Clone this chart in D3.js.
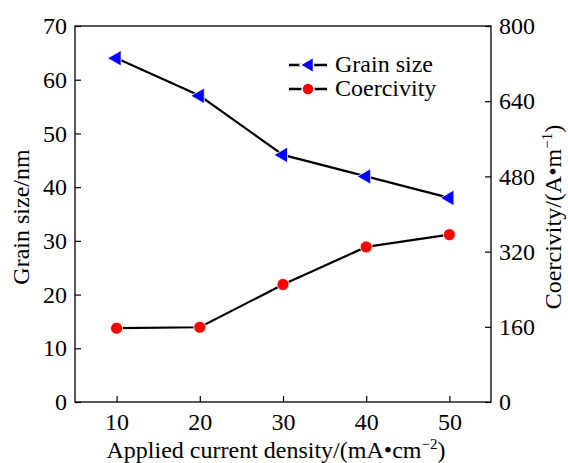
<!DOCTYPE html>
<html>
<head>
<meta charset="utf-8">
<script src="https://cdn.jsdelivr.net/npm/d3@7"></script>
<style>
  body { margin: 0; background: #fff; }
  text { font-family: "Liberation Serif", "Times New Roman", serif; fill: #000; }
</style>
</head>
<body>
<script>
// data
const currentDensity = [10, 20, 30, 40, 50];
const grainSize = [64, 57, 46, 42, 38];
const coercivity = [157, 159, 250, 330, 356];
const xTicks = [10, 20, 30, 40, 50];
const leftTicks = [0, 10, 20, 30, 40, 50, 60, 70];
const rightTicks = [0, 160, 320, 480, 640, 800];

const width = 568;
const height = 463;
const plot = { left: 75, right: 491, top: 26, bottom: 402 };
const fontSize = 24;

let svg = d3.select("body")
    .append("svg")
    .attr("width", width)
    .attr("height", height);

//scales
let xScale = d3.scaleLinear().domain([5, 55]).range([plot.left, plot.right]);
let yLeft = d3.scaleLinear().domain([0, 70]).range([plot.bottom, plot.top]);
let yRight = d3.scaleLinear().domain([0, 800]).range([plot.bottom, plot.top]);

//frame
svg.append("rect")
    .attr("x", plot.left)
    .attr("y", plot.top)
    .attr("width", plot.right - plot.left)
    .attr("height", plot.bottom - plot.top)
    .attr("fill", "none")
    .attr("stroke", "#000")
    .attr("stroke-width", 1.3);

//axes
function styleAxis(g) {
    g.select(".domain").remove();
    g.selectAll(".tick line").attr("stroke", "#000").attr("stroke-width", 1.2);
    g.selectAll(".tick text").attr("font-size", fontSize).style("font-family", "Liberation Serif");
}

const xAxis = d3.axisBottom(xScale).tickValues(xTicks).tickSizeInner(-6).tickSizeOuter(0).tickPadding(11);
svg.append("g").attr("transform", `translate(0, ${plot.bottom})`).call(xAxis).call(styleAxis);

const leftAxis = d3.axisLeft(yLeft).tickValues(leftTicks).tickSizeInner(-6).tickSizeOuter(0).tickPadding(8);
svg.append("g").attr("transform", `translate(${plot.left}, 0)`).call(leftAxis).call(styleAxis);

const rightAxis = d3.axisRight(yRight).tickValues(rightTicks).tickSizeInner(-6).tickSizeOuter(0).tickPadding(8);
svg.append("g").attr("transform", `translate(${plot.right}, 0)`).call(rightAxis).call(styleAxis);

//axis titles
let xTitle = svg.append("text")
    .attr("x", 276)
    .attr("y", 458)
    .attr("text-anchor", "middle")
    .attr("font-size", fontSize);
xTitle.append("tspan").text("Applied current density/(mA\u2022cm");
xTitle.append("tspan").attr("dy", -9).attr("font-size", 15).text("\u22122");
xTitle.append("tspan").attr("dy", 9).text(")");

svg.append("text")
    .attr("transform", `translate(29, 217) rotate(-90)`)
    .attr("text-anchor", "middle")
    .attr("font-size", fontSize)
    .text("Grain size/nm");

let rTitle = svg.append("text")
    .attr("transform", `translate(561, 217) rotate(-90)`)
    .attr("text-anchor", "middle")
    .attr("font-size", fontSize);
rTitle.append("tspan").text("Coercivity/(A\u2022m");
rTitle.append("tspan").attr("dy", -9).attr("font-size", 15).text("\u22121");
rTitle.append("tspan").attr("dy", 9).text(")");

//lines
const grainData = currentDensity.map((d, i) => ({ x: d, y: grainSize[i] }));
const coerData = currentDensity.map((d, i) => ({ x: d, y: coercivity[i] }));

svg.append("path")
    .datum(grainData)
    .attr("fill", "none")
    .attr("stroke", "#000")
    .attr("stroke-width", 2.2)
    .attr("d", d3.line().x(d => xScale(d.x)).y(d => yLeft(d.y)));

svg.append("path")
    .datum(coerData)
    .attr("fill", "none")
    .attr("stroke", "#000")
    .attr("stroke-width", 2.2)
    .attr("d", d3.line().x(d => xScale(d.x)).y(d => yRight(d.y)));

const triangle = d3.symbol().type(d3.symbolTriangle).size(105);

svg.selectAll(".tri")
    .data(grainData)
    .enter()
    .append("path")
    .attr("class", "tri")
    .attr("d", triangle)
    .attr("transform", d => `translate(${xScale(d.x)}, ${yLeft(d.y)}) rotate(-90)`)
    .attr("fill", "#0000ff")
    .attr("stroke", "#fff")
    .attr("stroke-width", 0.8);

svg.selectAll(".dot")
    .data(coerData)
    .enter()
    .append("circle")
    .attr("class", "dot")
    .attr("cx", d => xScale(d.x))
    .attr("cy", d => yRight(d.y))
    .attr("r", 6)
    .attr("fill", "#ff0000")
    .attr("stroke", "#fff")
    .attr("stroke-width", 0.8);

//legend
let legend = svg.append("g").attr("transform", "translate(289, 65)");

legend.append("line").attr("x1", 0).attr("x2", 38).attr("y1", 0).attr("y2", 0)
    .attr("stroke", "#000").attr("stroke-width", 2.5);
legend.append("path").attr("d", triangle)
    .attr("transform", "translate(20, 0) rotate(-90)")
    .attr("fill", "#0000ff").attr("stroke", "#fff").attr("stroke-width", 1.5);
legend.append("text").attr("x", 46).attr("y", 7).attr("font-size", fontSize).text("Grain size");

legend.append("line").attr("x1", 0).attr("x2", 38).attr("y1", 24).attr("y2", 24)
    .attr("stroke", "#000").attr("stroke-width", 2.5);
legend.append("circle").attr("cx", 19).attr("cy", 24).attr("r", 6)
    .attr("fill", "#ff0000").attr("stroke", "#fff").attr("stroke-width", 1.5);
legend.append("text").attr("x", 46).attr("y", 31).attr("font-size", fontSize).text("Coercivity");
</script>
</body>
</html>
